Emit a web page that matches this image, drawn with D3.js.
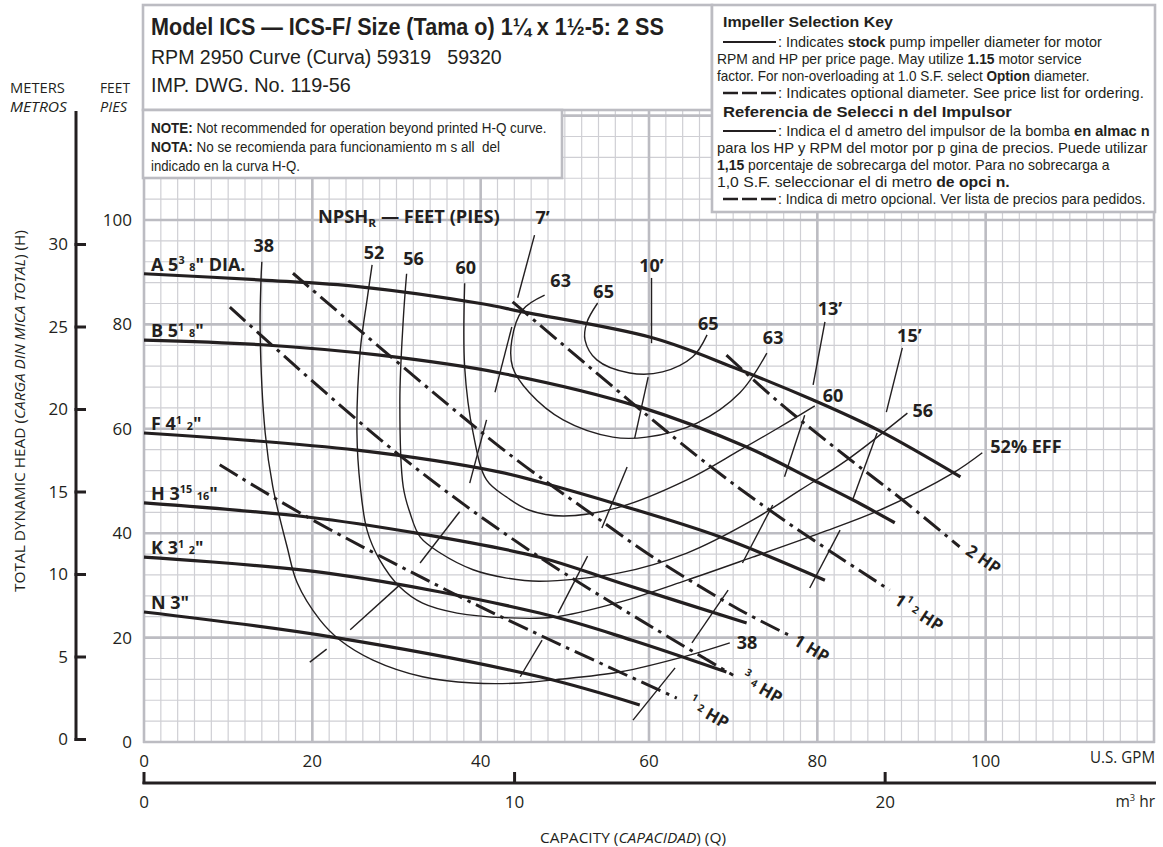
<!DOCTYPE html>
<html lang="en">
<head>
<meta charset="utf-8">
<title>ICS pump curve</title>
<script src="https://cdn.jsdelivr.net/npm/d3@7/dist/d3.min.js"></script>
<style>
  html,body{margin:0;padding:0;background:#fff;}
  svg{display:block;font-family:"Open Sans","Liberation Sans",sans-serif;}
  .boxtext{font-family:"Liberation Sans","Arial",sans-serif;}
</style>
</head>
<body>
<svg id="chart" width="1163" height="847" viewBox="0 0 1163 847"></svg>
<script>
// ================= DATA =================
const gpmTicks   = [0, 20, 40, 60, 80, 100];
const feetTicks  = [0, 20, 40, 60, 80, 100];
const meterTicks = [0, 5, 10, 15, 20, 25, 30];
const m3hTicks   = [0, 10, 20];

// Impeller H-Q curves  [U.S. GPM, feet]
const impA = [[0,89.7],[14,88.5],[25.7,87.2],[40,84],[45,82.4],[60.5,77.4],[70,71.8],[79.5,65.5],[87.4,59.6],[97,50.8]];
const impB = [[0,77.0],[14,76.1],[28,74.1],[42.3,70.7],[58.9,64.2],[71.6,56.5],[79.5,50.2],[84.2,46.4],[89.2,42.0]];
const impF = [[0,59.2],[25.3,55.9],[42.3,51.7],[47,49.8],[56.5,45.4],[68.4,39.3],[80.9,31.0]];
const impH = [[0,45.8],[19.4,43.1],[32.4,40.0],[47,35.4],[56.5,30.5],[71.6,22.8]];
const impK = [[0,35.4],[22,32.3],[47,24.7],[58,19.5],[69.2,13.4]];
const impN = [[0,24.9],[22.4,20.1],[47,12.5],[58.9,7.1]];

// Horsepower lines
const hpHalf         = [[9.0,53.1],[19.4,43.1],[36.7,28.5],[47,20.5],[63.3,8.4]];
const hpThreeQuarter = [[10.2,83.3],[30,55.4],[47,35.4],[70,12.8]];
const hpOne          = [[17.7,89.8],[42.3,56.5],[53,43.9],[60.5,35.4],[70.8,25.3],[77.1,20.1]];
const hpOneHalf      = [[43.8,84.3],[65.7,54.8],[75.5,43.1],[88.6,29.1]];
const hpTwo          = [[69.2,74.1],[75.5,65.0],[83.5,54.6],[90.1,46.4],[96.9,37.4]];

// Efficiency contours (%)
const eff38 = [[14.0,92.0],[13.9,88.5],[13.8,78.4],[14.4,59.2],[15.3,48.9],[17.0,37.4],[18.2,30.5],[20.9,23.4],[23.3,19.5],[27.2,15.7],[33.1,12.5],[39.1,11.3],[44.7,11.3],[48.6,11.9],[56.5,13.4],[64.5,16.5],[69.6,19.0]];
const eff52 = [[27.1,91.4],[26.5,84.7],[25.7,75.1],[25.3,59.2],[25.7,48.9],[26.5,40.6],[28.0,34.9],[30.4,29.7],[33.1,26.6],[37.2,24.7],[43.1,23.8],[48.6,23.9],[56.5,26.8],[64.5,31.0],[72.3,35.4],[80.3,40.0],[87.4,44.4],[96.1,51.5],[99.6,55.4]];
const eff56 = [[31.2,89.7],[30.8,80.8],[30.4,65.5],[30.8,48.9],[31.6,43.9],[32.8,39.3],[35.2,36.2],[39.1,33.0],[43.1,31.4],[47.0,30.8],[56.5,32.4],[64.5,36.2],[72.3,42.5],[77.9,48.2],[83.5,54.0],[90.7,63.0]];
const eff60 = [[38.1,87.9],[38.1,71.8],[39.1,59.2],[40.7,50.2],[43.1,46.9],[45.8,44.4],[49.8,43.3],[56.5,45.0],[64.5,50.2],[70.8,55.9],[75.5,60.3],[79.7,64.4]];
const eff63 = [[47.6,85.6],[45.0,82.8],[43.7,77.0],[43.8,71.8],[45.8,66.9],[49.8,61.7],[55.7,58.4],[59.7,58.4],[65.7,61.1],[70.8,66.9],[74.0,74.5]];
const eff65 = [[53.9,84.1],[52.6,80.3],[52.4,77.0],[53.8,73.2],[57.7,70.7],[61.6,70.9],[65.2,73.8],[66.9,78.0]];

// NPSHr curves (feet) – drawn as broken segments
const npsh7  = [[[46.4,97.1],[44.4,85.1]],[[43.7,79.5],[41.7,67.0]],[[40.7,61.7],[38.7,49.6]],[[37.5,44.1],[32.8,34.3]],[[30.4,30.1],[24.5,21.5]],[[21.7,17.8],[19.7,15.3]]];
const npsh10 = [[[60.3,88.9],[60.3,76.4]],[[59.9,69.9],[58.3,58.2]],[[57.4,52.7],[54.4,41.0]],[[52.7,35.6],[49.2,24.7]],[[47.3,19.5],[44.7,12.5]]];
const npsh13 = [[[80.9,80.5],[79.5,68.4]],[[78.5,62.6],[76.1,50.8]],[[74.7,45.4],[71.1,34.3]],[[69.4,29.1],[65.1,19.0]],[[63.1,14.2],[58.1,4.2]]];
const npsh15 = [[[90.1,75.5],[88.2,63.2]],[[87.1,59.2],[84.2,46.4]],[[82.7,40.6],[79.1,29.5]]];

// ================= SETUP =================
const INK = "#231f20", GRID_MINOR = "#cfcfd4", GRID_MAJOR = "#bcbcc2";
const GPM_PER_M3H = 4.40287;
const svg = d3.select("#chart");
const x  = d3.scaleLinear().domain([0, 120]).range([144, 1154]);
const y  = d3.scaleLinear().domain([0, 100]).range([742, 220]);
const yM = d3.scaleLinear().domain([0, 30]).range([739.5, 244.5]);

// rich text helper: parts = [[text, flags]]  flags: b bold, i italic, ^ superscript, _ small on baseline, v subscript
function rich(t, parts, fs) {
  let off = 0;
  parts.forEach(([s, f = ""]) => {
    const ts = t.append("tspan").text(s);
    let target = 0;
    if (f.includes("b")) ts.attr("font-weight", 700);
    if (f.includes("i")) ts.attr("font-style", "italic");
    if (f.includes("^")) { ts.attr("font-size", fs * 0.6); target = -fs * 0.36; }
    if (f.includes("_")) { ts.attr("font-size", fs * 0.6); target = 0; }
    if (f.includes("v")) { ts.attr("font-size", fs * 0.65); target = fs * 0.25; }
    if (target !== off) { ts.attr("dy", target - off); off = target; }
  });
  return t;
}
// text placed by translate; optional horizontal squeeze to a target width
function textAt(g, xx, yy, parts, fs, opts = {}) {
  const t = g.append("text").attr("x", 0).attr("y", 0).attr("font-size", fs).attr("fill", INK)
    .style("white-space", "pre");
  if (opts.cls) t.attr("class", opts.cls);
  if (opts.anchor) t.attr("text-anchor", opts.anchor);
  if (opts.weight) t.attr("font-weight", opts.weight);
  if (opts.baseline) t.attr("dominant-baseline", opts.baseline);
  rich(t, parts, fs);
  let tr = `translate(${xx},${yy})` + (opts.rotate ? ` rotate(${opts.rotate})` : "");
  if (opts.len) {
    const w = t.node().getComputedTextLength();
    if (w > 0) tr += ` scale(${opts.len / w},1)`;
  }
  t.attr("transform", tr);
  return t;
}

// ================= GRID =================
const grid = svg.append("g");
const xs = d3.range(0, 121, 2), ys = d3.range(0, 141, 4);
const yTop = 140;
grid.selectAll(".vmin").data(xs.filter(d => d % 20)).join("line")
  .attr("x1", d => x(d)).attr("x2", d => x(d)).attr("y1", y(0)).attr("y2", y(yTop))
  .attr("stroke", GRID_MINOR).attr("stroke-width", 1.2);
grid.selectAll(".hmin").data(ys.filter(d => d % 20)).join("line")
  .attr("x1", x(0)).attr("x2", x(120)).attr("y1", d => y(d)).attr("y2", d => y(d))
  .attr("stroke", GRID_MINOR).attr("stroke-width", 1.2);
grid.selectAll(".vmaj").data(xs.filter(d => d % 20 === 0)).join("line")
  .attr("x1", d => x(d)).attr("x2", d => x(d)).attr("y1", y(0) + 1).attr("y2", y(yTop))
  .attr("stroke", GRID_MAJOR).attr("stroke-width", 2.6);
grid.selectAll(".hmaj").data(ys.filter(d => d % 20 === 0)).join("line")
  .attr("x1", x(0) - 1).attr("x2", x(120) + 1).attr("y1", d => y(d)).attr("y2", d => y(d))
  .attr("stroke", GRID_MAJOR).attr("stroke-width", 2.6);

// ================= BOXES =================
const boxes = svg.append("g");
[[143, 5, 569, 105], [143, 110, 419, 68], [712, 5, 443, 207]].forEach(([bx, by, bw, bh]) => {
  boxes.append("rect").attr("x", bx).attr("y", by).attr("width", bw).attr("height", bh)
    .attr("fill", "#fff").attr("stroke", GRID_MAJOR).attr("stroke-width", 2.6);
});
const B = { cls: "boxtext" };

// title box
textAt(boxes, 151, 35, [["Model ICS — ICS-F/ Size (Tama o) 1¼ x 1½-5: 2 SS", "b"]], 23, { ...B, len: 513 });
textAt(boxes, 151, 64, [["RPM 2950 Curve (Curva) 59319   59320"]], 21, { ...B, len: 351 });
textAt(boxes, 151, 92, [["IMP. DWG. No. 119-56"]], 21, { ...B, len: 200 });
// note box
textAt(boxes, 151, 133, [["NOTE:", "b"], [" Not recommended for operation beyond printed H-Q curve."]], 14.5, { ...B, len: 396 });
textAt(boxes, 151, 152, [["NOTA:", "b"], [" No se recomienda para funcionamiento m s all  del"]], 14.5, { ...B, len: 349 });
textAt(boxes, 151, 171, [["indicado en la curva H-Q."]], 14.5, { ...B, len: 149 });

// key box
const keyRows = [
  { base: 27, x0: 723, x1: 893, parts: [["Impeller Selection Key", "b"]], fs: 15 },
  { base: 47, dash: "solid", x0: 778, x1: 1102, parts: [[": Indicates "], ["stock", "b"], [" pump impeller diameter for motor"]] },
  { base: 64, x0: 717, x1: 1082, parts: [["RPM and HP per price page. May utilize "], ["1.15", "b"], [" motor service"]] },
  { base: 81, x0: 717, x1: 1090, parts: [["factor. For non-overloading at 1.0 S.F. select "], ["Option", "b"], [" diameter."]] },
  { base: 98, dash: "dashed", x0: 778, x1: 1144, parts: [[": Indicates optional diameter. See price list for ordering."]] },
  { base: 117, x0: 723, x1: 1012, parts: [["Referencia de Selecci n del Impulsor", "b"]], fs: 15 },
  { base: 136, dash: "solid", x0: 778, x1: 1150, parts: [[": Indica el d ametro del impulsor de la bomba "], ["en almac n", "b"]] },
  { base: 153, x0: 717, x1: 1148, parts: [["para los HP y RPM del motor por p gina de precios. Puede utilizar"]] },
  { base: 170, x0: 717, x1: 1110, parts: [["1,15", "b"], [" porcentaje de sobrecarga del motor. Para no sobrecarga a"]] },
  { base: 187, x0: 717, x1: 1010, parts: [["1,0 S.F. seleccionar el di metro "], ["de opci n.", "b"]] },
  { base: 204, dash: "dashed", x0: 778, x1: 1146, parts: [[": Indica di metro opcional. Ver lista de precios para pedidos."]] }
];
keyRows.forEach(r => {
  if (r.dash) {
    boxes.append("line").attr("x1", 723).attr("x2", 776).attr("y1", r.base - 5).attr("y2", r.base - 5)
      .attr("stroke", INK).attr("stroke-width", r.dash === "solid" ? 1.8 : 2.6)
      .attr("stroke-dasharray", r.dash === "solid" ? null : "15,4");
  }
  textAt(boxes, r.x0, r.base, r.parts, r.fs || 14, { ...B, len: r.x1 - r.x0 });
});

// ================= AXES =================
const ax = svg.append("g");
// meters axis
ax.append("line").attr("x1", 76).attr("x2", 76).attr("y1", 111).attr("y2", yM(0) + 1.5)
  .attr("stroke", INK).attr("stroke-width", 3);
ax.selectAll(".mt").data(meterTicks).join("line")
  .attr("x1", 74.5).attr("x2", 86).attr("y1", d => yM(d)).attr("y2", d => yM(d))
  .attr("stroke", INK).attr("stroke-width", 3);
ax.selectAll(".ml").data(meterTicks).join("text")
  .attr("x", 68).attr("y", d => yM(d)).attr("dy", "0.35em").attr("text-anchor", "end")
  .attr("font-size", 17).attr("fill", INK).text(d => d);
// feet labels
ax.selectAll(".fl").data(feetTicks).join("text")
  .attr("x", 132).attr("y", d => y(d)).attr("dy", "0.35em").attr("text-anchor", "end")
  .attr("font-size", 17).attr("fill", INK).text(d => d);
textAt(ax, 10, 93, [["METERS"]], 14.5, { len: 55 });
textAt(ax, 10, 112, [["METROS", "i"]], 14.5, { len: 57 });
textAt(ax, 100, 93, [["FEET"]], 14.5, { len: 30 });
textAt(ax, 100, 112, [["PIES", "i"]], 14.5, { len: 27 });
textAt(ax, 25, 411, [["TOTAL DYNAMIC HEAD ("], ["CARGA DIN MICA TOTAL", "i"], [") (H)"]], 14,
  { anchor: "middle", len: 362, rotate: -90 });

// GPM axis labels
ax.selectAll(".gl").data(gpmTicks).join("text")
  .attr("x", d => x(d)).attr("y", 767).attr("text-anchor", "middle")
  .attr("font-size", 17).attr("fill", INK).text(d => d);
textAt(ax, 1155, 763, [["U.S. GPM"]], 15.5, { anchor: "end", len: 65 });
// m3/hr axis
ax.append("line").attr("x1", x(0) - 1.5).attr("x2", 1156).attr("y1", 783).attr("y2", 783)
  .attr("stroke", INK).attr("stroke-width", 3);
ax.selectAll(".m3t").data(m3hTicks).join("line")
  .attr("x1", d => x(d * GPM_PER_M3H)).attr("x2", d => x(d * GPM_PER_M3H))
  .attr("y1", 772).attr("y2", 784).attr("stroke", INK).attr("stroke-width", 3);
ax.selectAll(".m3l").data(m3hTicks).join("text")
  .attr("x", d => x(d * GPM_PER_M3H)).attr("y", 808).attr("text-anchor", "middle")
  .attr("font-size", 17).attr("fill", INK).text(d => d);
textAt(ax, 1155, 807, [["m"], ["3", "^"], [" hr"]], 15.5, { anchor: "end" });
textAt(ax, 633, 843, [["CAPACITY ("], ["CAPACIDAD", "i"], [") (Q)"]], 14, { anchor: "middle", len: 186 });

// ================= CURVES =================
const plot = svg.append("g");
const smooth = d3.line().x(d => x(d[0])).y(d => y(d[1])).curve(d3.curveCatmullRom.alpha(0.5));
const straight = d3.line().x(d => x(d[0])).y(d => y(d[1]));

// efficiency contours
const effCurves = [
  { pts: eff38, lab: "38", l: [2, -17], r: "38", ro: [7, -1] },
  { pts: eff52, lab: "52", l: [2, -13], r: "52% EFF", ro: [8, -7] },
  { pts: eff56, lab: "56", l: [7, -16], r: "56", ro: [5, -3] },
  { pts: eff60, lab: "60", l: [1, -16], r: "60", ro: [8, -11] },
  { pts: eff63, lab: "63", l: [16, -15], r: "63", ro: [-4, -16] },
  { pts: eff65, lab: "65", l: [6, -12], r: "65", ro: [-9, -12] }
];
effCurves.forEach(c => {
  plot.append("path").attr("d", smooth(c.pts)).attr("fill", "none")
    .attr("stroke", INK).attr("stroke-width", 1.4);
  const p0 = c.pts[0], p1 = c.pts[c.pts.length - 1];
  textAt(plot, x(p0[0]) + c.l[0], y(p0[1]) + c.l[1], [[c.lab]], 18,
    { anchor: "middle", weight: 700, baseline: "central" });
  textAt(plot, x(p1[0]) + c.ro[0], y(p1[1]) + c.ro[1], [[c.r]], 18,
    { anchor: "start", weight: 700, baseline: "central" });
});

// NPSH segments
const npshCurves = [
  { segs: npsh7, lab: "7’", o: [8, -18] },
  { segs: npsh10, lab: "10’", o: [0, -13] },
  { segs: npsh13, lab: "13’", o: [5, -14] },
  { segs: npsh15, lab: "15’", o: [7, -13] }
];
npshCurves.forEach(c => {
  c.segs.forEach(s => plot.append("path").attr("d", straight(s)).attr("fill", "none")
    .attr("stroke", INK).attr("stroke-width", 1.4));
  const p = c.segs[0][0];
  textAt(plot, x(p[0]) + c.o[0], y(p[1]) + c.o[1], [[c.lab]], 18,
    { anchor: "middle", weight: 700, baseline: "central" });
});
textAt(plot, 318, 223, [["NPSH"], ["R", "v"], [" — FEET (PIES)"]], 17, { weight: 700, len: 182 });

// horsepower lines
const hpLines = [
  { pts: hpHalf, parts: [["1", "^"], [" "], ["2", "_"], [" HP"]], o: [13, 3], a: 30 },
  { pts: hpThreeQuarter, parts: [["3", "^"], [" "], ["4", "_"], [" HP"]], o: [10, 1], a: 30 },
  { pts: hpOne, parts: [["1 HP"]], o: [3, 1], a: 31 },
  { pts: hpOneHalf, parts: [["1"], ["1", "^"], [" "], ["2", "_"], [" HP"]], o: [7, 7], a: 33 },
  { pts: hpTwo, parts: [["2 HP"]], o: [9, 1], a: 35 }
];
hpLines.forEach(h => {
  plot.append("path").attr("d", smooth(h.pts)).attr("fill", "none")
    .attr("stroke", INK).attr("stroke-width", 3).attr("stroke-dasharray", "21,6,3.5,6");
  const e = h.pts[h.pts.length - 1];
  textAt(plot, x(e[0]) + h.o[0], y(e[1]) + h.o[1], h.parts, 17,
    { weight: 700, baseline: "central", rotate: h.a });
});

// impeller curves
const impellers = [
  { pts: impA, parts: [["A 5"], ["3", "^"], [" "], ["8", "_"], ["\" DIA."]] },
  { pts: impB, parts: [["B 5"], ["1", "^"], [" "], ["8", "_"], ["\""]] },
  { pts: impF, parts: [["F 4"], ["1", "^"], [" "], ["2", "_"], ["\""]] },
  { pts: impH, parts: [["H 3"], ["15", "^"], [" "], ["16", "_"], ["\""]] },
  { pts: impK, parts: [["K 3"], ["1", "^"], [" "], ["2", "_"], ["\""]] },
  { pts: impN, parts: [["N 3\""]] }
];
impellers.forEach(c => {
  plot.append("path").attr("d", smooth(c.pts)).attr("fill", "none")
    .attr("stroke", INK).attr("stroke-width", 3.2).attr("stroke-linecap", "butt");
  textAt(plot, 151, y(c.pts[0][1]) - 3, c.parts, 18, { weight: 700 });
});
</script>
</body>
</html>
